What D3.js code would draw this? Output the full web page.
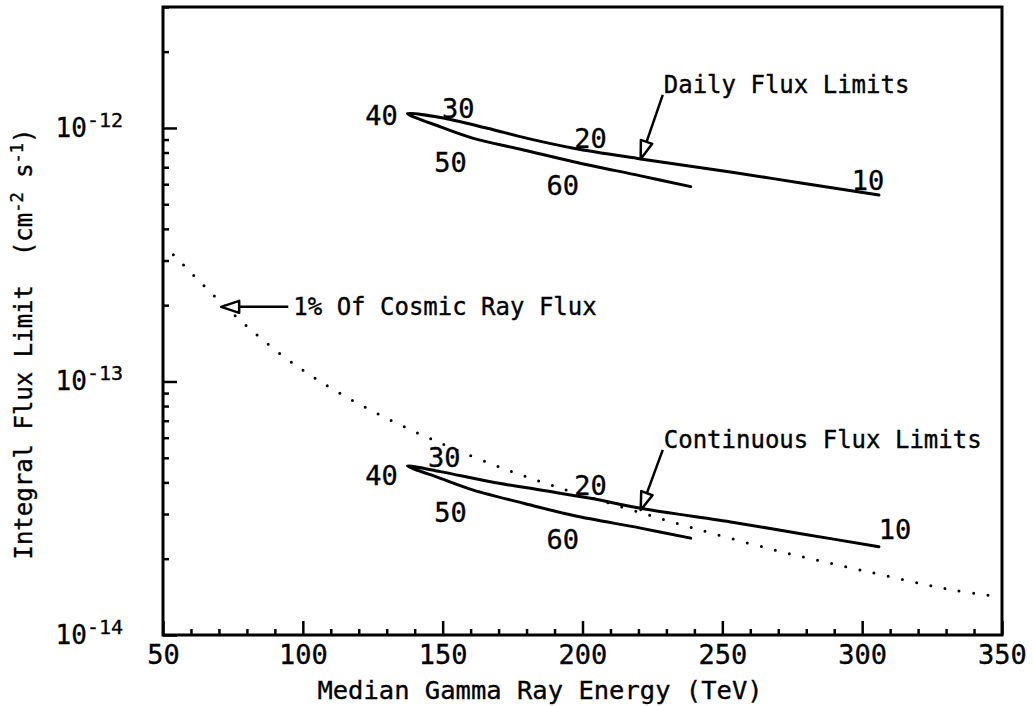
<!DOCTYPE html>
<html>
<head>
<meta charset="utf-8">
<script src="https://cdn.jsdelivr.net/npm/d3@7"></script>
<style>
  body { margin: 0; background: #fff; }
  text { font-family: "DejaVu Sans Mono", monospace; fill: #000; stroke: #000; stroke-width: 0.35; }
</style>
</head>
<body>
<svg id="chart" width="1033" height="706"></svg>
<script>
// zenith angles written along both curves
const zenith = [10, 20, 30, 40, 50, 60];

// daily limits: from the 10 deg end, round the 40 deg turn, out to 60 deg
const dailyEnergy = [306.0, 278.1, 254.1, 220.8, 196.8, 180.3, 166.0, 149.2, 137.4, 149.2, 161.0, 178.9, 196.8, 220.8, 238.7];
const dailyFlux = [5.44e-13, 6.07e-13, 6.67e-13, 7.55e-13, 8.32e-13, 9.10e-13, 9.97e-13, 1.10e-12, 1.14e-12, 1.01e-12, 9.10e-13, 8.19e-13, 7.36e-13, 6.47e-13, 5.87e-13];

// continuous limits, same path
const contEnergy = [306.0, 278.1, 254.1, 220.8, 202.9, 185.0, 167.1, 149.2, 137.4, 149.2, 161.0, 178.9, 196.8, 220.8, 238.7];
const contFlux = [2.23e-14, 2.51e-14, 2.78e-14, 3.16e-14, 3.46e-14, 3.73e-14, 4.02e-14, 4.41e-14, 4.64e-14, 4.15e-14, 3.73e-14, 3.31e-14, 2.96e-14, 2.64e-14, 2.41e-14];

// 1% of cosmic ray flux (dotted)
const cosmicEnergy = [53.7, 68.6, 76.4, 92.5, 105.6, 124.1, 148.0, 173.1, 193.3, 220.8, 238.7, 269.7, 300.7, 333.0, 348.5];
const cosmicFlux = [3.16e-13, 2.16e-13, 1.79e-13, 1.27e-13, 1.01e-13, 7.72e-14, 5.79e-14, 4.48e-14, 3.76e-14, 3.04e-14, 2.66e-14, 2.15e-14, 1.79e-14, 1.50e-14, 1.42e-14];

// where the zenith numbers sit (same order as zenith)
const dailyLabelEnergy = [302.1, 202.9, 155.6, 128.1, 152.8, 192.9];
const dailyLabelFlux = [6.24e-13, 9.13e-13, 1.20e-12, 1.125e-12, 7.34e-13, 5.96e-13];
const contLabelEnergy = [311.7, 202.9, 150.6, 128.1, 152.8, 192.9];
const contLabelFlux = [2.62e-14, 3.91e-14, 5.04e-14, 4.28e-14, 3.06e-14, 2.39e-14];

// axis ticks
const xTicks = [50, 100, 150, 200, 250, 300, 350];
const yTicks = [1e-14, 1e-13, 1e-12];
const yTickExp = ["-14", "-13", "-12"];

// arrow notes
const notes = [
  { text: "Daily Flux Limits", tip: [220.8, 7.55e-13], tail: [228.7, 1.35e-12], side: "above" },
  { text: "Continuous Flux Limits", tip: [220.8, 3.11e-14], tail: [228.7, 5.37e-14], side: "above" },
  { text: "1% Of Cosmic Ray Flux", tip: [70.8, 1.97e-13], tail: [94.8, 1.97e-13], side: "right" }
];

const svg = d3.select("#chart");
const mLeft = 163, mRight = 1002, mTop = 7, mBottom = 635;

const x = d3.scaleLinear().domain([50, 350]).range([mLeft, mRight]);
const y = d3.scaleLog().domain([1e-14, 3e-12]).range([mBottom, mTop]);

// minor ticks
const xMinor = d3.range(60, 350, 10).filter(d => d % 50 !== 0);
const yMinor = [];
[1e-14, 1e-13, 1e-12].forEach(dec => {
  for (let k = 2; k <= 9; k++) if (dec * k <= 3e-12) yMinor.push(dec * k);
});

// x axis
const gx = svg.append("g").attr("transform", `translate(0,${mBottom})`);
gx.call(d3.axisBottom(x).tickValues(xTicks).tickSizeInner(-14).tickSizeOuter(0).tickPadding(10).tickFormat(d3.format("d")));
gx.append("g").call(d3.axisBottom(x).tickValues(xMinor).tickSizeInner(-6).tickSizeOuter(0).tickFormat(""));
gx.selectAll(".domain").remove();
gx.selectAll(".tick line").attr("stroke", "#000").attr("stroke-width", 2.5);
gx.selectAll(".tick text").style("font-size", "27px").attr("fill", "#000");

// y axis
const gy = svg.append("g").attr("transform", `translate(${mLeft},0)`);
gy.call(d3.axisLeft(y).tickValues(yTicks).tickSizeInner(-14).tickSizeOuter(0).tickFormat(""));
gy.append("g").call(d3.axisLeft(y).tickValues(yMinor).tickSizeInner(-6).tickSizeOuter(0).tickFormat(""));
gy.selectAll(".domain").remove();
gy.selectAll(".tick line").attr("stroke", "#000").attr("stroke-width", 2.5);

const yLab = svg.append("g").selectAll("text")
  .data(yTicks)
  .join("text")
  .attr("x", 123)
  .attr("y", d => y(d) + 9)
  .attr("text-anchor", "end")
  .style("font-size", "26px");
yLab.append("tspan").text("10");
yLab.append("tspan").attr("dy", -10).style("font-size", "20px").text((d, i) => yTickExp[i]);

// frame
svg.append("rect")
  .attr("x", mLeft).attr("y", mTop)
  .attr("width", mRight - mLeft).attr("height", mBottom - mTop)
  .attr("fill", "none").attr("stroke", "#000").attr("stroke-width", 3);

// axis titles
svg.append("text")
  .attr("x", 540).attr("y", 699)
  .attr("text-anchor", "middle")
  .style("font-size", "25.5px")
  .text("Median Gamma Ray Energy (TeV)");

const yt = svg.append("text")
  .attr("transform", "translate(32,344) rotate(-90)")
  .attr("text-anchor", "middle")
  .style("font-size", "24px")
  .style("white-space", "pre");
yt.append("tspan").text("Integral Flux Limit  (cm");
yt.append("tspan").attr("dy", -9).style("font-size", "17px").text("-2");
yt.append("tspan").attr("dy", 9).text(" s");
yt.append("tspan").attr("dy", -9).style("font-size", "17px").text("-1");
yt.append("tspan").attr("dy", 9).text(")");

// curves
const line = d3.line()
  .x(d => x(d[0]))
  .y(d => y(d[1]))
  .curve(d3.curveCatmullRom.alpha(0.5));

svg.append("path")
  .attr("d", line(d3.zip(cosmicEnergy, cosmicFlux)))
  .attr("fill", "none")
  .attr("stroke", "#000")
  .attr("stroke-width", 3)
  .attr("stroke-linecap", "round")
  .attr("stroke-dasharray", "0 14.5");

[[dailyEnergy, dailyFlux], [contEnergy, contFlux]].forEach(([e, f]) => {
  svg.append("path")
    .attr("d", line(d3.zip(e, f)))
    .attr("fill", "none")
    .attr("stroke", "#000")
    .attr("stroke-width", 3)
    .attr("stroke-linejoin", "round")
    .attr("stroke-linecap", "round");
});

// zenith numbers
[[dailyLabelEnergy, dailyLabelFlux], [contLabelEnergy, contLabelFlux]].forEach(([e, f]) => {
  svg.append("g").selectAll("text")
    .data(zenith)
    .join("text")
    .attr("x", (d, i) => x(e[i]))
    .attr("y", (d, i) => y(f[i]))
    .attr("dy", "0.36em")
    .attr("text-anchor", "middle")
    .style("font-size", "27px")
    .text(d => d);
});

// arrows with open heads
notes.forEach(n => {
  const tx = x(n.tip[0]), ty = y(n.tip[1]);
  const sx = x(n.tail[0]), sy = y(n.tail[1]);
  const len = Math.hypot(sx - tx, sy - ty);
  const ux = (sx - tx) / len, uy = (sy - ty) / len;
  const hl = 18, hw = 6;
  const bx = tx + ux * hl, by = ty + uy * hl;
  svg.append("line")
    .attr("x1", sx).attr("y1", sy).attr("x2", bx).attr("y2", by)
    .attr("stroke", "#000").attr("stroke-width", 2.5);
  svg.append("path")
    .attr("d", `M${tx},${ty}L${bx - uy * hw},${by + ux * hw}L${bx + uy * hw},${by - ux * hw}Z`)
    .attr("fill", "#fff").attr("stroke", "#000").attr("stroke-width", 2.5)
    .attr("stroke-linejoin", "round");
  const t = svg.append("text").style("font-size", "24px").text(n.text);
  if (n.side === "above") {
    t.attr("x", sx + 1).attr("y", sy - 2);
  } else {
    t.attr("x", sx + 5).attr("y", sy).attr("dy", "0.36em");
  }
});
</script>
</body>
</html>
